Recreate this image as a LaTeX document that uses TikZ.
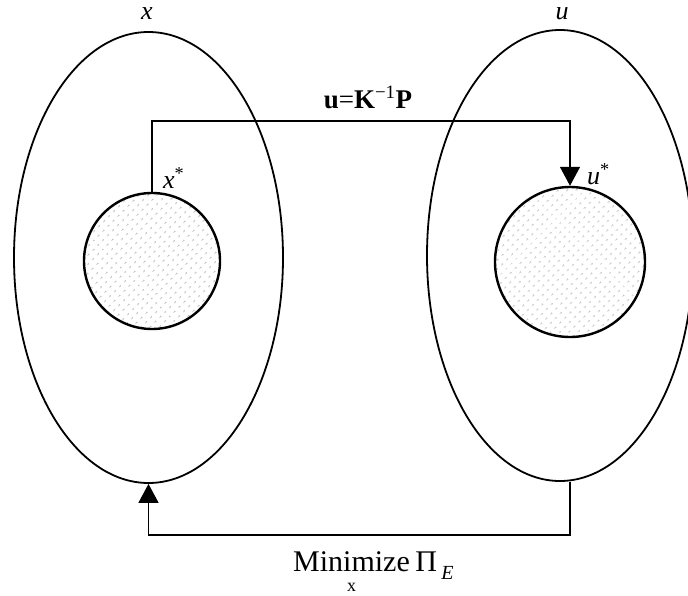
\documentclass[tikz,border=0pt]{standalone}
\usepackage{fontspec}
\setmainfont{Liberation Serif}
\usetikzlibrary{shapes.geometric,patterns.meta,arrows.meta,calc,positioning}

\begin{document}
\begin{tikzpicture}[
  x=1pt, y=-1pt,
  space/.style={ellipse, draw, line width=1.8pt, inner sep=0pt},
  subset/.style={circle, draw, line width=2.4pt, inner sep=0pt,
    pattern={Dots[angle=45, distance=6.5pt, radius=1.1pt]}, pattern color=gray!55},
  arrow/.style={-{Triangle[length=19pt, width=20pt]}, line width=1.4pt},
  label/.style={font=\fontsize{26}{30}\selectfont\itshape, inner sep=0pt},
]
\useasboundingbox (0,0) rectangle (688,595);

% === Design space and response space ===
\node[space, minimum width=269pt, minimum height=451pt] (xset) at (148.5, 257.5) {};
\node[space, minimum width=266pt, minimum height=451pt] (uset) at (560, 255.5) {};

\node[subset, minimum size=136pt] (xstar) at (152, 261) {};
\node[subset, minimum size=150pt] (ustar) at (570, 262) {};

% === Labels ===
\node[label] (xlab) at (147, 14) {x};
\node[label] (ulab) at (562, 14) {u};
\node[label, anchor=west] (xslab) at (163, 178) {x\textsuperscript{\upshape *}};
\node[label, anchor=west] (uslab) at (587, 174) {u\textsuperscript{\upshape *}};

% === Connectors ===
\coordinate (top) at (360, 121);
\coordinate (bot) at (360, 535);
\draw[arrow] (xstar.north) |- (top) -| (ustar.north);
\draw[arrow] (ustar |- uset.south) |- (bot) -| (xset.south);

\node[font=\fontsize{27}{30}\selectfont, anchor=base] (solve) at (368, 108)
  {\textbf{u}=\textbf{K}\textsuperscript{−1}\textbf{P}};

\node[font=\fontsize{30}{34}\selectfont, anchor=base west, inner sep=0pt] (mini) at (293, 571) {Minimize};
\node[font=\fontsize{30}{34}\selectfont, anchor=base west, inner sep=0pt] (pi) at ([xshift=5pt]mini.base east) {Π};
\node[font=\fontsize{20}{22}\selectfont\itshape, anchor=base west, inner sep=0pt] (piE) at ([xshift=4pt, yshift=-8pt]pi.base east) {E};
\node[font=\fontsize{18}{20}\selectfont, anchor=base, inner sep=0pt] (minvar) at ([yshift=-20pt]mini.base) {x};

\end{tikzpicture}
\end{document}
